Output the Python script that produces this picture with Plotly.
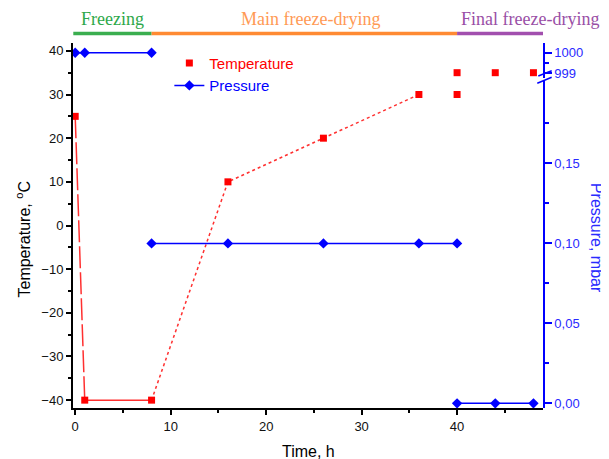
import plotly.graph_objects as go

# ---------------- data ----------------
time_temp = [0, 1, 8, 16, 26, 36, 40, 40, 44, 48]
temperature = [25, -40, -40, 10, 20, 30, 30, 35, 35, 35]

time_pres_high = [0, 1, 8]
pres_high = [1000, 1000, 1000]
time_pres_mid = [8, 16, 26, 36, 40]
pres_mid = [0.1, 0.1, 0.1, 0.1, 0.1]
time_pres_low = [40, 44, 48]
pres_low = [0, 0, 0]

phase_names = ["Freezing", "Main freeze-drying", "Final freeze-drying"]
phase_start = [-0.2, 8, 40]
phase_end = [8, 40, 49.2]

temp_ticks = [-40, -30, -20, -10, 0, 10, 20, 30, 40]
time_ticks = [0, 10, 20, 30, 40]
pres_ticks_low = [0, 0.05, 0.10, 0.15]
pres_minor_low = [0.025, 0.075, 0.125, 0.175]
pres_ticks_high = [999, 1000]
pres_minor_high = [999.5]

# ---------------- styles ----------------
RED = "#ff0000"
BLUE = "#0000ff"
phase_bar_colors = ["#3aae4f", "#ff8a33", "#a24fae"]
phase_text_colors = ["#2ea84a", "#ff9a55", "#9a4fa6"]
SANS = "Liberation Sans, Arial, sans-serif"
SERIF = "Liberation Serif, Times New Roman, serif"

fig = go.Figure()

# temperature connecting segments
fig.add_trace(go.Scatter(x=time_temp[0:2], y=temperature[0:2], mode="lines",
                         line=dict(color="#ff3030", width=1.5, dash="22px,4px"),
                         showlegend=False, hoverinfo="skip"))
fig.add_trace(go.Scatter(x=time_temp[1:3], y=temperature[1:3], mode="lines",
                         line=dict(color="#ff3030", width=1.5),
                         showlegend=False, hoverinfo="skip"))
fig.add_trace(go.Scatter(x=time_temp[2:6], y=temperature[2:6], mode="lines",
                         line=dict(color="#ff3030", width=1.5, dash="dot"),
                         showlegend=False, hoverinfo="skip"))
# temperature markers
fig.add_trace(go.Scatter(x=time_temp, y=temperature, mode="markers", name="Temperature",
                         marker=dict(symbol="square", size=7, color=RED),
                         legendrank=1))

# pressure
fig.add_trace(go.Scatter(x=time_pres_high, y=pres_high, mode="lines+markers",
                         name="<span style='color:#0000ff'>Pressure</span>",
                         yaxis="y3", line=dict(color=BLUE, width=1.5),
                         marker=dict(symbol="diamond", size=8, color=BLUE),
                         legendrank=2))
fig.add_trace(go.Scatter(x=time_pres_mid, y=pres_mid, mode="lines+markers", name="Pressure",
                         yaxis="y2", line=dict(color=BLUE, width=1.5),
                         marker=dict(symbol="diamond", size=8, color=BLUE),
                         showlegend=False))
fig.add_trace(go.Scatter(x=time_pres_low, y=pres_low, mode="lines+markers", name="Pressure",
                         yaxis="y2", line=dict(color=BLUE, width=1.5),
                         marker=dict(symbol="diamond", size=8, color=BLUE),
                         showlegend=False))

xr = [-0.23, 49.0]
axis_font = dict(family=SANS, size=13, color="#111111")
blue_font = dict(family=SANS, size=13, color="#2a2aff")

# the page body adds an 8px offset, so the top/left margins are reduced by 8px
fig.update_layout(
    width=609, height=459,
    margin=dict(l=65, r=74, t=35, b=59),
    paper_bgcolor="white", plot_bgcolor="rgba(0,0,0,0)",
    separators=",.",
    font=dict(family=SANS),
    xaxis=dict(domain=[0, 1], range=xr, anchor="y", tickmode="array", tickvals=time_ticks,
               ticks="outside", ticklen=5, tickwidth=2, tickcolor="black",
               minor=dict(dtick=5, tick0=0, ticks="outside", ticklen=3, tickwidth=1.5, tickcolor="black"),
               showline=True, linecolor="black", linewidth=2, showgrid=False, zeroline=False,
               tickfont=axis_font),
    xaxis2=dict(overlaying="x", side="top", anchor="y", range=xr, tickmode="array", tickvals=time_ticks,
                ticks="inside", ticklen=5, tickwidth=2, tickcolor="black", showticklabels=False,
                minor=dict(dtick=5, tick0=0, ticks="inside", ticklen=3, tickwidth=1.5, tickcolor="black"),
                showline=True, linecolor="black", linewidth=2, showgrid=False, zeroline=False),
    yaxis=dict(range=[-41.8, 41.8], anchor="x", side="left", tickmode="array", tickvals=temp_ticks,
               ticks="outside", ticklen=5, tickwidth=2, tickcolor="black",
               minor=dict(dtick=5, tick0=0, ticks="outside", ticklen=3, tickwidth=1.5, tickcolor="black"),
               showline=True, linecolor="black", linewidth=2, showgrid=False, zeroline=False,
               tickfont=axis_font),
    yaxis2=dict(domain=[0, 0.895], anchor="x", side="right", range=[-0.0029, 0.2013],
                tickmode="array", tickvals=pres_ticks_low, tickformat=".2f",
                ticks="outside", ticklen=7, tickwidth=2, tickcolor=BLUE,
                minor=dict(tickmode="array", tickvals=pres_minor_low, ticks="outside", ticklen=4,
                           tickwidth=2, tickcolor=BLUE),
                showline=True, linecolor=BLUE, linewidth=1.5, showgrid=False, zeroline=False,
                tickfont=blue_font),
    yaxis3=dict(domain=[0.905, 1], anchor="x", side="right", range=[998.786, 1000.471],
                tickmode="array", tickvals=pres_ticks_high,
                ticks="outside", ticklen=7, tickwidth=2, tickcolor=BLUE,
                minor=dict(tickmode="array", tickvals=pres_minor_high, ticks="outside", ticklen=4,
                           tickwidth=2, tickcolor=BLUE),
                showline=True, linecolor=BLUE, linewidth=1.5, showgrid=False, zeroline=False,
                tickfont=blue_font),
    legend=dict(x=0.205, y=0.99, xanchor="left", yanchor="top", bgcolor="rgba(0,0,0,0)",
                font=dict(family=SANS, size=15, color=RED), tracegroupgap=0),
)

# phase bars and labels
label_anchor = ["center", "center", "left"]
label_x = [(phase_start[0] + phase_end[0]) / 2,
           (phase_start[1] + phase_end[1]) / 2 + 0.6,
           phase_start[2] + 0.2]
for i, name in enumerate(phase_names):
    fig.add_shape(type="line", xref="x", yref="paper", x0=phase_start[i], x1=phase_end[i],
                  y0=1.026, y1=1.026, line=dict(color=phase_bar_colors[i], width=3.5))
    fig.add_annotation(text=name, xref="x", yref="paper", x=label_x[i], y=1.067,
                       xanchor=label_anchor[i], yanchor="middle", showarrow=False,
                       font=dict(family=SERIF, size=18, color=phase_text_colors[i]))

# axis break marks
fig.add_shape(type="line", xref="paper", yref="paper", x0=0.990, y0=0.9096, x1=1.0185, y1=0.9241,
              line=dict(color=BLUE, width=1.5))
fig.add_shape(type="line", xref="paper", yref="paper", x0=0.9879, y0=0.8896, x1=1.0185, y1=0.906,
              line=dict(color=BLUE, width=1.5))

# axis titles
fig.add_annotation(text="Time, h", xref="paper", yref="paper", x=0.5, y=-0.1205,
                   xanchor="center", yanchor="middle", showarrow=False,
                   font=dict(family=SANS, size=16, color="black"))
fig.add_annotation(text="Temperature, <sup>o</sup>C", xref="paper", yref="paper", x=-0.1053, y=0.463,
                   xanchor="center", yanchor="middle", showarrow=False, textangle=-90,
                   font=dict(family=SANS, size=16, color="black"))
fig.add_annotation(text="Pressure, mbar", xref="paper", yref="paper", x=1.1128, y=0.466,
                   xanchor="center", yanchor="middle", showarrow=False, textangle=90,
                   font=dict(family=SANS, size=16, color="#2a2aff"))

fig.write_html("out.html")
